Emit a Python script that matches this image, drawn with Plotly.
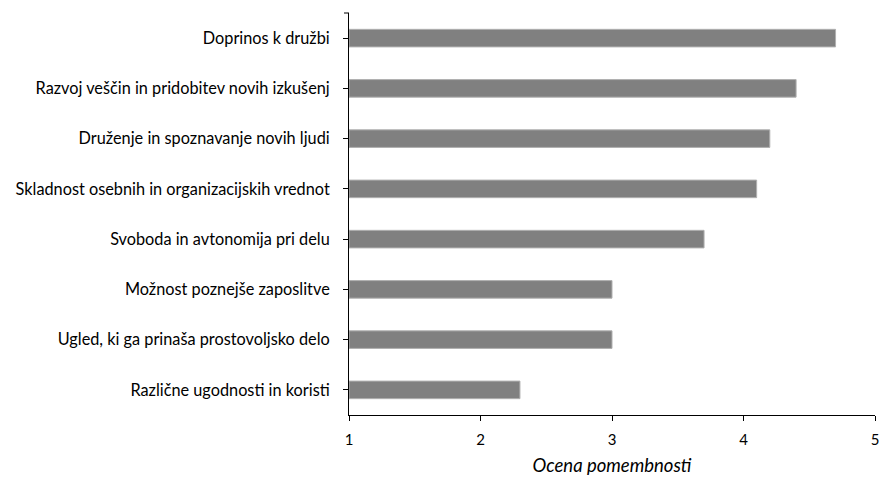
import plotly.graph_objects as go

categories = [
    "Doprinos k družbi",
    "Razvoj veščin in pridobitev novih izkušenj",
    "Druženje in spoznavanje novih ljudi",
    "Skladnost osebnih in organizacijskih vrednot",
    "Svoboda in avtonomija pri delu",
    "Možnost poznejše zaposlitve",
    "Ugled, ki ga prinaša prostovoljsko delo",
    "Različne ugodnosti in koristi",
]
values = [4.7, 4.4, 4.2, 4.1, 3.7, 3.0, 3.0, 2.3]
x_ticks = [1, 2, 3, 4, 5]
x_title = "Ocena pomembnosti"

FONT = "Lato"
PLOT_W = 879 - 349 - 4

fig = go.Figure(
    go.Bar(
        y=categories,
        x=[v - 1 for v in values],
        base=1,
        orientation="h",
        width=0.35,
        marker=dict(color="#808080", line=dict(color="#b0b0b0", width=1)),
        hoverinfo="skip",
    )
)

fig.update_layout(
    width=879,
    height=477,
    margin=dict(l=349, r=4, t=13, b=62),
    paper_bgcolor="white",
    plot_bgcolor="white",
    showlegend=False,
    font=dict(family=FONT, size=16, color="#000000"),
)

fig.update_xaxes(
    range=[1, 5],
    tickvals=x_ticks,
    ticktext=[str(t) for t in x_ticks],
    showgrid=False,
    zeroline=False,
    showline=True,
    linecolor="#000000",
    linewidth=1,
    ticks="outside",
    ticklen=5,
    tickcolor="#000000",
    ticklabelstandoff=6,
    ticklabeloverflow="allow",
    automargin=False,
    tickfont=dict(family=FONT, size=15),
    title=dict(text="<i>" + x_title + "</i>", font=dict(family=FONT, size=18.5), standoff=12),
)

fig.update_yaxes(
    categoryorder="array",
    categoryarray=categories[::-1],
    range=[-0.5, len(categories) - 0.5],
    showgrid=False,
    zeroline=False,
    showline=True,
    linecolor="#000000",
    linewidth=1,
    ticks="outside",
    ticklen=5,
    tickcolor="#000000",
    ticklabelstandoff=10,
    automargin=False,
    tickfont=dict(family=FONT, size=16.3),
)

# small end tick at the top of the category axis
fig.add_shape(
    type="line", xref="paper", yref="paper",
    x0=-5 / PLOT_W, x1=0, y0=1, y1=1,
    line=dict(color="#000000", width=1),
)

fig.write_html(
    "out.html",
    config={"displayModeBar": False, "staticPlot": True},
    post_script="document.body.style.margin='0px';document.body.style.overflow='hidden';",
)
